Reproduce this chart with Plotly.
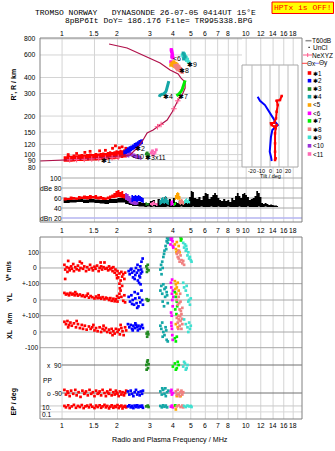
import numpy as np
import plotly.graph_objects as go

W, H = 335, 451
def xp(px): return px / W
def yp(py): return 1 - py / H

SANS = "Liberation Sans, Arial, sans-serif"
MONO = "Liberation Mono, DejaVu Sans Mono, monospace"

# ---------------- tick values / labels ----------------
top_freq_ticks = [1, 1.5, 2, 3, 4, 5, 6, 7, 8, 10, 12, 14, 16, 18]
mid_freq_ticks = [1, 1.5, 2, 3, 4, 5, 6, 7, 8, 9, 10, 12, 14, 16, 18]
bot_freq_ticks = [1, 1.5, 2, 3, 4, 5, 6, 7, 8, 10, 12, 14, 16, 18]
grid_freqs = [1, 1.5, 2, 3, 4, 5, 6, 7, 8, 9, 10, 12, 14, 16, 18]
height_ticks = [80, 90, 100, 120, 150, 200, 300, 400, 600, 800]
dbe_ticks = [100, 80, 60, 40, 20]
dbe_tick_labels = ["100", "dBe 80", "60", "40", "dBn 20"]
tilt_ticks = [-20, -10, 0, 10, 20]

COL = ['#ff0000', '#0000ff', '#228b22', '#14a6a6', '#ffa500', '#ff00ff',
       '#00ee00', '#f08080', '#40e0d0', '#9932d8', '#ff69b4']
legend_labels = ['✱1', '✱2', '✱3', '✱4', '<5', '<6', '✱7', '✱8', '✱9', '<10', '<11']

# ---------------- top panel: virtual height (km) ----------------
prof_f = [0.76, 1.0, 1.333, 1.823, 2.342, 2.588, 2.754, 2.897, 3.124, 3.409, 3.721, 3.963,
          4.27, 4.49, 4.66, 4.66, 4.43, 4.27, 3.86, 3.41, 2.754, 2.256, 1.80]
prof_h = [89.1, 90.7, 92.3, 95.7, 99.3, 114.6, 130, 147.5, 155.6, 170.3, 186.4, 215,
          267, 292, 331, 369, 396, 426, 458, 519, 600, 680, 731]
ne_f = [1.1, 1.2, 1.32, 1.45, 1.58, 1.72, 1.87, 2.02, 3.3, 3.45, 4.05, 4.25]
ne_h = [91, 91.3, 91.8, 92.4, 93, 93.6, 94.5, 95.2, 165, 172, 228, 263]

h_red_f = [1.02, 1.06, 1.1, 1.14, 1.18, 1.22, 1.26, 1.3, 1.35, 1.4,
           1.45, 1.5, 1.55, 1.6, 1.65, 1.7, 1.75, 1.8, 1.85, 1.9,
           1.95, 2.0, 2.05, 2.1, 2.15, 2.2, 2.25, 2.3]
h_red_lo = [88, 88, 88, 88.5, 89, 89, 89, 89.5, 89.5, 90,
            90, 90, 90.5, 91, 91, 91, 91.5, 92, 92, 92,
            93, 93, 94, 94, 95, 95, 96, 97]
h_red_hi = [97, 99, 98, 100, 99, 100, 101, 100, 101, 102,
            101, 103, 102, 103, 104, 103, 105, 106, 105, 106,
            108, 107, 109, 108, 110, 108, 106, 104]
h_redout_f = [1.08, 1.2, 1.33, 1.42, 1.6, 1.72, 1.88, 1.95, 2.05, 2.12, 2.22]
h_redout_h = [100, 102, 104, 106, 107, 108, 112, 117, 113, 115, 112]
h_blue_f = [2.15, 2.2, 2.25, 2.3, 2.35, 2.4, 2.45, 2.5, 2.55, 2.6, 2.65, 2.7, 2.75]
h_blue_lo = [100, 101, 103, 104, 106, 108, 110, 112, 114, 116, 118, 121, 124]
h_blue_hi = [108, 111, 114, 116, 118, 120, 123, 125, 127, 130, 131, 132, 131]
h_purple_f = [2.22, 2.27, 2.32, 2.37, 2.42, 2.5, 2.58, 2.65, 2.7]
h_purple_lo = [96, 95, 97, 96, 94, 93, 92, 91, 92]
h_purple_hi = [104, 106, 108, 104, 102, 100, 99, 97, 96]
h_green_f = [2.87, 2.9, 2.93, 2.95, 2.91]
h_green_h = [101, 103, 99, 100, 97]
h_pink_f = [3.05, 3.1, 3.15, 3.2, 3.25, 3.12, 3.08]
h_pink_h = [103, 107, 101, 104, 109, 99, 105]
h_teal_f = [3.80, 3.78, 3.76, 3.74, 3.71, 3.68, 3.65, 3.62, 3.57, 3.5, 3.44, 3.4, 3.37]
h_teal_h = [375, 362, 350, 338, 326, 316, 308, 302, 298, 296, 294, 290, 282]
h_lime_f = [4.66, 4.64, 4.6, 4.55, 4.5, 4.45, 4.4, 4.34, 4.28, 4.22, 4.18]
h_lime_h = [380, 370, 355, 340, 325, 315, 306, 300, 295, 290, 288]
h_mag_f = [3.92, 3.94, 3.96, 3.98, 3.95, 3.93, 3.97, 4.0, 3.9]
h_mag_h = [660, 640, 620, 600, 580, 650, 590, 570, 530]
h_orange_f = [3.95, 4.0, 4.05, 4.1, 4.15, 4.2, 4.02, 4.08, 3.9]
h_orange_h = [520, 510, 530, 500, 515, 505, 495, 490, 500]
h_salmon_f = [4.1, 4.15, 4.2, 4.25, 4.3, 4.35, 4.4, 4.45, 4.5, 4.22, 4.32, 4.42]
h_salmon_h = [495, 480, 470, 460, 490, 455, 470, 445, 440, 500, 480, 450]
h_aqua_f = [4.5, 4.55, 4.6, 4.65, 4.7, 4.75, 4.8, 4.85, 4.9, 4.62, 4.72]
h_aqua_h = [600, 585, 570, 590, 560, 545, 555, 530, 525, 610, 575]
h_tealup_f = [4.55, 4.6, 4.65, 4.58]
h_tealup_h = [620, 600, 580, 560]

lab_text = ['✱1', '✱2', '<10', '✱3', 'x11', '✱4', '✱7', '<6', '✱8', '✱9']
lab_f = [1.73, 2.64, 2.59, 3.0, 3.41, 3.74, 4.54, 4.19, 4.6, 5.11]
lab_h = [90.7, 111.6, 96.3, 94.9, 94.9, 283, 283, 565, 450, 510]

# ---------------- inset: tilt (deg) vs height ----------------
tilty_deg = [-13.7, -11.1, -5.6, -1.9, 1.1, 3.7, 5.6, 7.4, 8.6, 6.3, 2.6, 1.1, 0.0, -0.3, 1.1, 1.9]
tilty_h = [283, 263.5, 243.8, 222.8, 203.7, 191.9, 180.6, 175.4, 170.2, 165.1, 155.6, 138, 118.9, 105.3, 96.2, 89.1]
tiltx_deg = [13.0, 11.1, 7.4, 8.6, 7.4, 6.7, 4.8, 1.1, 1.9, 4.8, 7.4, 6.3, 5.6, 5.6, 5.6, 6.3, 5.6]
tiltx_h = [287, 266.7, 263.5, 243.8, 216.3, 191.9, 177.4, 175.4, 170.2, 165.1, 170.2, 160.4, 146.5, 122.4, 105.3, 93.5, 90.7]

# ---------------- dBe panel: echo amplitude ----------------
black_f = [1.02, 1.1, 1.2, 1.3, 1.4, 1.5, 1.6, 1.7, 1.8, 1.9,
           2.0, 2.1, 2.2, 2.3, 2.4, 2.5, 2.6, 2.7, 2.8, 2.9,
           3.0, 3.1, 3.2, 3.3, 3.4, 3.5, 3.6, 3.7, 3.8, 3.9,
           4.0, 4.1, 4.2, 4.3, 4.4, 4.5, 4.6, 4.7, 4.8, 4.9,
           5.0, 5.1, 5.2, 5.35, 5.5, 5.65, 5.8, 5.95, 6.1, 6.25,
           6.4, 6.55, 6.7, 6.85, 7.0, 7.15, 7.3, 7.5, 7.7, 7.9,
           8.1, 8.3, 8.5, 8.7, 8.9, 9.1, 9.3, 9.5, 9.7, 9.9,
           10.1, 10.35, 10.6, 10.85, 11.1, 11.35, 11.6, 11.85, 12.1, 12.35,
           12.6, 12.9, 13.2, 13.5, 13.8, 14.1, 14.4, 14.7, 14.9]
black_lo = [50, 51, 52, 50, 51, 50, 49, 48, 50, 50,
            51, 51, 48, 46, 44, 44, 43, 43, 42, 43,
            42, 43, 42, 42, 42, 42, 42, 43, 42, 42,
            42, 42, 42, 42, 43, 42, 42, 42, 42, 42,
            42, 43, 42, 42, 42, 43, 42, 42, 42, 42,
            43, 42, 42, 42, 43, 42, 42, 42, 42, 43,
            42, 42, 42, 42, 42, 43, 42, 42, 42, 42,
            43, 42, 42, 42, 42, 42, 43, 42, 42, 42,
            43, 42, 42, 42, 42, 42, 42, 42, 42]
black_hi = [57, 57, 58, 57, 58, 57, 56, 56, 58, 58,
            60, 60, 58, 56, 54, 52, 52, 50, 50, 50,
            54, 56, 50, 58, 50, 56, 62, 52, 58, 48,
            60, 52, 50, 55, 50, 54, 52, 50, 56, 62,
            74, 72, 60, 58, 62, 56, 64, 70, 68, 58,
            62, 66, 70, 66, 60, 56, 54, 58, 54, 56,
            52, 60, 56, 64, 70, 64, 60, 68, 70, 66,
            62, 56, 58, 60, 64, 74, 70, 62, 50, 48,
            50, 48, 46, 47, 46, 45, 45, 44, 44]
db_red_f = [1.02, 1.06, 1.1, 1.14, 1.18, 1.22, 1.26, 1.3, 1.35, 1.4, 1.45, 1.5, 1.55, 1.6,
            1.65, 1.7, 1.75, 1.8, 1.85, 1.9, 1.95, 2.0, 2.05, 2.1, 2.15, 2.2, 2.25]
db_red_lo = [55, 56, 56, 57, 56, 57, 58, 58, 57, 58, 59, 58, 57, 57,
             56, 56, 57, 58, 60, 60, 61, 62, 61, 60, 59, 60, 58]
db_red_hi = [61, 60, 63, 62, 61, 64, 63, 65, 64, 66, 64, 66, 63, 64,
             62, 61, 63, 65, 67, 70, 74, 76, 72, 74, 68, 66, 64]
db_purple_f = [2.2, 2.25, 2.3, 2.35, 2.4, 2.45, 2.5, 2.55, 2.6]
db_purple_lo = [56, 54, 50, 48, 47, 46, 46, 47, 48]
db_purple_hi = [70, 68, 64, 60, 58, 58, 56, 55, 54]
db_blue_f = [2.38, 2.43, 2.48, 2.53, 2.58, 2.63, 2.68, 2.73, 2.78]
db_blue_lo = [52, 54, 54, 52, 54, 53, 52, 50, 50]
db_blue_hi = [66, 64, 66, 64, 66, 64, 62, 60, 56]
db_green_f = [2.84, 2.88, 2.92, 2.96]
db_green_lo = [44, 46, 45, 44]
db_green_hi = [52, 50, 50, 48]
db_pink_f = [3.0, 3.06, 3.12, 3.18, 3.24, 3.3]
db_pink_lo = [46, 44, 46, 46, 44, 45]
db_pink_hi = [50, 52, 54, 50, 50, 49]
db_teal_f = [3.38, 3.44, 3.5, 3.56, 3.62, 3.68, 3.74, 3.8]
db_teal_lo = [46, 48, 50, 48, 50, 48, 46, 47]
db_teal_hi = [56, 60, 62, 58, 64, 60, 56, 54]
db_mag_f = [3.88, 3.94, 4.0, 4.05]
db_mag_lo = [44, 46, 44, 45]
db_mag_hi = [54, 56, 50, 49]
db_lime_f = [4.04, 4.1, 4.16]
db_lime_lo = [44, 46, 45]
db_lime_hi = [50, 52, 49]
db_orange_f = [4.1, 4.16, 4.22, 4.28, 4.34, 4.4]
db_orange_lo = [56, 58, 56, 57, 54, 55]
db_orange_hi = [66, 70, 72, 70, 64, 60]
db_salmon_f = [4.3, 4.36, 4.42, 4.48, 4.54, 4.6]
db_salmon_lo = [48, 46, 48, 47, 46, 48]
db_salmon_hi = [54, 56, 58, 57, 54, 52]
db_aqua_f = [4.6, 4.66, 4.72, 4.78, 4.84, 4.9, 4.96]
db_aqua_lo = [48, 50, 50, 48, 50, 49, 48]
db_aqua_hi = [56, 58, 60, 56, 58, 54, 52]

# ---------------- lower panel: V* (m/s) ----------------
vs_red_f = [1.03, 1.04, 1.06, 1.07, 1.08, 1.09, 1.1, 1.12, 1.13, 1.15,
            1.16, 1.18, 1.2, 1.22, 1.24, 1.26, 1.28, 1.3, 1.32, 1.35,
            1.37, 1.4, 1.42, 1.45, 1.47, 1.5, 1.52, 1.55, 1.58, 1.6,
            1.63, 1.65, 1.68, 1.7, 1.72, 1.75, 1.78, 1.8, 1.83, 1.86,
            1.88, 1.9, 1.93, 1.95, 1.98, 2.0, 2.02, 2.05, 2.08, 2.1,
            2.12, 2.15, 2.18, 2.2, 2.05, 1.99, 1.04, 1.25, 1.62]
vs_red_v = [20, -10, 5, -25, 45, 0, -15, 10, -5, 25,
            -20, 5, -8, 15, -15, 0, 30, -5, 10, -20,
            5, -10, 20, 0, -15, 8, -5, 15, -20, 0,
            10, -10, 5, 35, -5, 0, -15, 10, -8, 0,
            -20, 5, -30, -10, -45, -20, -60, -35, -80, -25,
            -55, -40, -70, -30, -100, -65, -70, 40, 35]
vs_blue_f = [2.3, 2.33, 2.36, 2.4, 2.43, 2.46, 2.5, 2.52, 2.55, 2.58, 2.6, 2.63,
             2.66, 2.68, 2.7, 2.72, 2.74, 2.62, 2.48, 2.38, 2.57, 2.65, 2.69]
vs_blue_v = [-20, -40, -10, -30, -60, -20, -45, 0, -30, -80, -15, -50,
             10, -35, 40, -25, 60, -95, -70, -5, 20, -60, -10]
vs_green_f = [2.87, 2.9, 2.92, 2.95, 2.89]
vs_green_v = [10, -5, 20, -15, -25]
vs_teal_f = [3.42, 3.45, 3.5, 3.55, 3.6, 3.65, 3.7, 3.72, 3.75, 3.78, 3.68, 3.52, 3.47, 3.58, 3.8]
vs_teal_v = [-10, 20, 40, 70, 110, 140, 170, 190, 160, 180, 120, 0, -40, 90, 195]
vs_mag_f = [3.88, 3.92, 3.95, 3.98, 4.0, 4.02, 3.9]
vs_mag_v = [150, 180, 190, 170, 140, 130, 190]
vs_orange_f = [4.1, 4.15, 4.2, 4.25, 4.3, 4.35, 4.18]
vs_orange_v = [150, 120, 165, 110, 140, 100, 100]
vs_lime_f = [4.4, 4.45, 4.42]
vs_lime_v = [195, 185, 175]
vs_salmon_f = [4.2, 4.25, 4.3, 4.35, 4.4, 4.45, 4.5, 4.55, 4.6, 4.32, 4.28]
vs_salmon_v = [90, 70, 60, 40, 80, 50, 30, 45, 20, 110, 100]
vs_aqua_f = [4.55, 4.6, 4.65, 4.7, 4.75, 4.8, 4.85, 4.9, 4.95, 5.0, 5.05, 4.72]
vs_aqua_v = [160, 130, 150, 110, 120, 80, 100, 60, 70, 50, 40, 140]

# ---------------- lower panel: YL (km) ----------------
yl_red_f = [1.03, 1.05, 1.07, 1.09, 1.11, 1.13, 1.15, 1.17, 1.2, 1.22,
            1.25, 1.28, 1.3, 1.33, 1.36, 1.4, 1.43, 1.46, 1.5, 1.53,
            1.56, 1.6, 1.63, 1.66, 1.7, 1.73, 1.76, 1.8, 1.83, 1.86,
            1.9, 1.93, 1.96, 2.0, 2.03, 2.05, 2.08, 2.1, 2.12, 2.15,
            2.18, 2.2, 2.06, 1.99, 1.38, 1.18, 1.58]
yl_red_v = [45, 35, 40, 30, 45, 35, 40, 30, 38, 28,
            35, 25, 30, 20, 28, 15, 25, 18, 10, 22,
            12, 15, 8, 18, 5, 15, 10, 0, 12, -5,
            8, -8, 5, -10, 15, 40, 60, 20, 90, -5,
            30, -15, 75, 25, 40, 50, 30]
yl_blue_f = [2.3, 2.34, 2.38, 2.42, 2.46, 2.5, 2.54, 2.58, 2.6, 2.63, 2.66, 2.7, 2.72, 2.75, 2.48, 2.56, 2.67, 2.4]
yl_blue_v = [20, -10, 30, 0, -30, 10, -20, 40, -40, 15, -15, 60, 0, -30, 50, -50, 100, -25]
yl_green_f = [2.88, 2.92, 2.95]
yl_green_v = [5, -5, 0]
yl_teal_f = [3.42, 3.46, 3.5, 3.55, 3.6, 3.63, 3.66, 3.7, 3.75, 3.52, 3.58, 3.72]
yl_teal_v = [60, 90, 40, 100, 70, 20, 80, 50, -20, -10, -40, 30]
yl_mag_f = [3.9, 3.92, 3.95, 3.97, 3.99, 3.91, 3.94, 4.0, 4.02, 3.96]
yl_mag_v = [110, 80, 40, 0, -40, -80, -100, 60, 20, 130]
yl_orange_f = [4.1, 4.15, 4.2, 4.25, 4.3, 4.18, 4.12]
yl_orange_v = [120, 100, 80, 110, 60, 40, 70]
yl_lime_f = [4.1, 4.15, 4.2, 4.12, 4.18, 4.22]
yl_lime_v = [50, 20, -10, -60, -90, -40]
yl_salmon_f = [4.2, 4.25, 4.3, 4.35, 4.4, 4.45, 4.5, 4.28, 4.38, 4.33, 4.42, 4.48]
yl_salmon_v = [0, -30, 20, -60, -10, -90, -50, -100, 40, -20, -70, -120]
yl_aqua_f = [4.55, 4.6, 4.7, 4.8, 4.9, 4.95, 5.0, 4.75, 4.85]
yl_aqua_v = [110, 80, 60, 30, 0, -30, 10, 90, -10]

# ---------------- lower panel: XL (km) ----------------
xl_red_f = [1.03, 1.05, 1.07, 1.09, 1.11, 1.13, 1.16, 1.19, 1.22, 1.25,
            1.28, 1.3, 1.33, 1.36, 1.4, 1.43, 1.46, 1.5, 1.53, 1.56,
            1.6, 1.63, 1.66, 1.7, 1.73, 1.76, 1.8, 1.83, 1.86, 1.9,
            1.93, 1.96, 2.0, 2.03, 2.06, 2.1, 2.13, 2.16, 2.2, 2.23,
            1.08, 1.2, 1.48, 1.68, 1.88, 2.08]
xl_red_v = [65, 50, 70, 45, 60, 40, 55, 30, 50, 25,
            45, 20, 40, 15, 35, 20, 30, 10, 25, 5,
            30, 0, 20, 10, 25, 0, 15, -5, 20, 5,
            -10, 20, 0, 15, -15, 25, 5, -20, 30, 10,
            30, 70, 45, 40, -20, 45]
xl_blue_f = [2.28, 2.32, 2.36, 2.4, 2.44, 2.48, 2.52, 2.56, 2.6, 2.64, 2.68, 2.72, 2.75, 2.42, 2.58, 2.5]
xl_blue_v = [50, 30, 45, 20, 40, 25, 45, 30, 40, 20, 35, 45, 25, 10, 10, 55]
xl_green_f = [2.88, 2.92, 2.9, 2.94]
xl_green_v = [-10, 0, -30, -15]
xl_teal_f = [3.42, 3.46, 3.5, 3.55, 3.6, 3.65, 3.7, 3.75, 3.52, 3.68]
xl_teal_v = [40, 20, 60, 0, -20, 30, -50, -60, -30, 10]
xl_mag_f = [3.92, 3.95, 3.97, 3.99, 3.93]
xl_mag_v = [60, 20, -20, -50, 40]
xl_orange_f = [4.15, 4.25]
xl_orange_v = [50, 30]
xl_lime_f = [4.1, 4.15, 4.2]
xl_lime_v = [-40, -60, -30]
xl_salmon_f = [4.2, 4.25, 4.3, 4.35, 4.4, 4.45, 4.5, 4.28, 4.38]
xl_salmon_v = [90, 60, 80, 40, 70, 20, 50, 20, 100]
xl_aqua_f = [4.6, 4.7, 4.8, 4.9, 4.95, 5.0, 4.85]
xl_aqua_v = [80, 50, 30, 60, 20, 40, 0]

# ---------------- lower panel: PP (deg) ----------------
pp_red_f = [1.03, 1.05, 1.07, 1.1, 1.12, 1.15, 1.18, 1.2, 1.23, 1.26,
            1.29, 1.32, 1.35, 1.38, 1.41, 1.44, 1.47, 1.5, 1.53, 1.56,
            1.6, 1.63, 1.66, 1.7, 1.73, 1.76, 1.8, 1.83, 1.86, 1.9,
            1.93, 1.96, 2.0, 2.03, 2.06, 2.1, 2.13, 2.17, 2.2, 2.23,
            1.08, 1.33, 1.58, 1.78, 1.98]
pp_red_v = [-70, -100, -80, -110, -75, -95, -70, -105, -85, -115,
            -75, -95, -80, -105, -70, -95, -85, -110, -75, -95,
            -80, -105, -70, -90, -110, -80, -95, -70, -105, -85,
            -100, -75, -95, -110, -80, -100, -85, -105, -90, -75,
            -90, -90, -90, -90, -88]
pp_blue_f = [2.28, 2.32, 2.36, 2.4, 2.44, 2.48, 2.52, 2.56, 2.6, 2.64, 2.68, 2.72, 2.75]
pp_blue_v = [-80, -100, -75, -95, -110, -85, -70, -100, -85, -105, -80, -95, -75]
pp_green_f = [2.87, 2.9, 2.93, 2.88, 2.92, 2.95]
pp_green_v = [90, 110, 70, 60, 120, 95]
pp_teal_f = [3.42, 3.48, 3.54, 3.6, 3.66, 3.72, 3.78, 3.5, 3.64]
pp_teal_v = [-80, -100, -70, -95, -110, -85, -75, -60, -60]
pp_mag_f = [3.9, 3.95, 4.0, 3.93]
pp_mag_v = [-80, -100, -90, -70]
pp_orange_f = [4.2, 4.4]
pp_orange_v = [-110, -110]
pp_lime_f = [4.0, 4.1, 4.2, 4.3, 4.15, 4.25]
pp_lime_v = [80, 100, 70, 90, 60, 110]
pp_salmon_f = [4.15, 4.2, 4.25, 4.3, 4.35, 4.4, 4.45, 4.5, 4.55]
pp_salmon_v = [-80, -100, -70, -95, -110, -85, -75, -100, -85]
pp_aqua_f = [4.55, 4.65, 4.75, 4.8, 4.7, 4.6]
pp_aqua_v = [80, 100, 70, 90, 60, 110]

# ---------------- lower panel: EP (deg, log) ----------------
ep_red_f = [1.03, 1.05, 1.08, 1.1, 1.13, 1.16, 1.19, 1.22, 1.25, 1.28,
            1.31, 1.34, 1.37, 1.4, 1.43, 1.46, 1.5, 1.53, 1.56, 1.6,
            1.63, 1.66, 1.7, 1.73, 1.76, 1.8, 1.83, 1.86, 1.9, 1.93,
            1.96, 2.0, 2.03, 2.06, 2.1, 2.13, 2.16, 2.2, 2.23]
ep_red_v = [20, 8, 30, 5, 15, 40, 6, 20, 10, 35,
            5, 15, 25, 8, 40, 12, 5, 25, 10, 30,
            6, 15, 40, 8, 20, 4, 12, 30, 6, 18,
            10, 35, 5, 15, 25, 4, 12, 20, 8]
ep_blue_f = [2.28, 2.32, 2.36, 2.4, 2.44, 2.48, 2.52, 2.56, 2.6, 2.64, 2.68, 2.72, 2.75]
ep_blue_v = [15, 30, 8, 20, 5, 25, 10, 30, 8, 20, 12, 25, 6]
ep_green_f = [2.87, 2.92, 2.95]
ep_green_v = [15, 25, 10]
ep_teal_f = [3.42, 3.48, 3.54, 3.6, 3.66, 3.72]
ep_teal_v = [20, 8, 30, 12, 25, 8]
ep_mag_f = [3.9, 3.95, 4.0]
ep_mag_v = [12, 25, 8]
ep_orange_f = [4.1, 4.15]
ep_orange_v = [20, 2]
ep_lime_f = [4.12]
ep_lime_v = [30]
ep_salmon_f = [4.2, 4.3, 4.4, 4.5, 4.55]
ep_salmon_v = [15, 30, 10, 25, 8]
ep_aqua_f = [4.6, 4.7, 4.8, 4.9, 5.0, 5.05]
ep_aqua_v = [20, 10, 25, 15, 20, 10]

# ============================ figure ============================
fig = go.Figure()

def pts(f, v, c, xa, ya, size=3.2, sym='square'):
    assert len(f) == len(v)
    fig.add_trace(go.Scatter(x=f, y=v, mode='markers', xaxis=xa, yaxis=ya, hoverinfo='skip',
                             marker=dict(color=c, size=size, symbol=sym, line=dict(width=0))))

def band(f, lo, hi, c, xa, ya):
    assert len(f) == len(lo) == len(hi)
    fig.add_trace(go.Scatter(x=f, y=lo, mode='lines', xaxis=xa, yaxis=ya, hoverinfo='skip',
                             line=dict(width=0, shape='hv', color=c)))
    fig.add_trace(go.Scatter(x=f, y=hi, mode='lines', xaxis=xa, yaxis=ya, hoverinfo='skip',
                             line=dict(width=0, shape='hv', color=c), fill='tonexty', fillcolor=c))

# top panel
band(h_red_f, h_red_lo, h_red_hi, COL[0], 'x', 'y')
pts(h_redout_f, h_redout_h, COL[0], 'x', 'y', size=2.8)
band(h_purple_f, h_purple_lo, h_purple_hi, COL[9], 'x', 'y')
band(h_blue_f, h_blue_lo, h_blue_hi, COL[1], 'x', 'y')
pts(h_green_f, h_green_h, COL[2], 'x', 'y', size=2.8)
pts(h_pink_f, h_pink_h, COL[10], 'x', 'y', size=2.8)
fig.add_trace(go.Scatter(x=prof_f, y=prof_h, mode='lines', xaxis='x', yaxis='y', hoverinfo='skip',
                         line=dict(color='#b0104a', width=1.2)))
pts(ne_f, ne_h, '#ff5a8c', 'x', 'y', size=4, sym='cross-thin-open')
fig.add_trace(go.Scatter(x=h_teal_f, y=h_teal_h, mode='lines', xaxis='x', yaxis='y', hoverinfo='skip',
                         line=dict(color=COL[3], width=3)))
fig.add_trace(go.Scatter(x=h_lime_f, y=h_lime_h, mode='lines', xaxis='x', yaxis='y', hoverinfo='skip',
                         line=dict(color=COL[6], width=3)))
pts(h_aqua_f, h_aqua_h, COL[8], 'x', 'y', size=3.2)
pts(h_tealup_f, h_tealup_h, COL[3], 'x', 'y', size=3.2)
pts(h_mag_f, h_mag_h, COL[5], 'x', 'y', size=3.2)
pts(h_orange_f, h_orange_h, COL[4], 'x', 'y', size=3.2)
pts(h_salmon_f, h_salmon_h, COL[7], 'x', 'y', size=3.2)

# inset
fig.add_trace(go.Scatter(x=tilty_deg, y=tilty_h, mode='lines', xaxis='x4', yaxis='y8', hoverinfo='skip',
                         line=dict(color='#0000ff', width=2)))
fig.add_trace(go.Scatter(x=tiltx_deg, y=tiltx_h, mode='lines+markers', xaxis='x4', yaxis='y8', hoverinfo='skip',
                         line=dict(color='#ff0000', width=2), marker=dict(size=2.5, symbol='square', color='#ff0000')))

# dBe panel
band(black_f, black_lo, black_hi, '#000000', 'x2', 'y2')
band(db_red_f, db_red_lo, db_red_hi, COL[0], 'x2', 'y2')
band(db_purple_f, db_purple_lo, db_purple_hi, COL[9], 'x2', 'y2')
band(db_blue_f, db_blue_lo, db_blue_hi, COL[1], 'x2', 'y2')
band(db_green_f, db_green_lo, db_green_hi, COL[2], 'x2', 'y2')
band(db_pink_f, db_pink_lo, db_pink_hi, COL[10], 'x2', 'y2')
band(db_teal_f, db_teal_lo, db_teal_hi, COL[3], 'x2', 'y2')
band(db_mag_f, db_mag_lo, db_mag_hi, COL[5], 'x2', 'y2')
band(db_lime_f, db_lime_lo, db_lime_hi, COL[6], 'x2', 'y2')
band(db_orange_f, db_orange_lo, db_orange_hi, COL[4], 'x2', 'y2')
band(db_salmon_f, db_salmon_lo, db_salmon_hi, COL[7], 'x2', 'y2')
band(db_aqua_f, db_aqua_lo, db_aqua_hi, COL[8], 'x2', 'y2')

# lower panel rows
rows = [
    ('y3', [(vs_red_f, vs_red_v, 0), (vs_blue_f, vs_blue_v, 1), (vs_green_f, vs_green_v, 2),
            (vs_teal_f, vs_teal_v, 3), (vs_mag_f, vs_mag_v, 5), (vs_orange_f, vs_orange_v, 4),
            (vs_lime_f, vs_lime_v, 6), (vs_salmon_f, vs_salmon_v, 7), (vs_aqua_f, vs_aqua_v, 8)]),
    ('y4', [(yl_red_f, yl_red_v, 0), (yl_blue_f, yl_blue_v, 1), (yl_green_f, yl_green_v, 2),
            (yl_teal_f, yl_teal_v, 3), (yl_mag_f, yl_mag_v, 5), (yl_orange_f, yl_orange_v, 4),
            (yl_lime_f, yl_lime_v, 6), (yl_salmon_f, yl_salmon_v, 7), (yl_aqua_f, yl_aqua_v, 8)]),
    ('y5', [(xl_red_f, xl_red_v, 0), (xl_blue_f, xl_blue_v, 1), (xl_green_f, xl_green_v, 2),
            (xl_teal_f, xl_teal_v, 3), (xl_mag_f, xl_mag_v, 5), (xl_orange_f, xl_orange_v, 4),
            (xl_lime_f, xl_lime_v, 6), (xl_salmon_f, xl_salmon_v, 7), (xl_aqua_f, xl_aqua_v, 8)]),
    ('y6', [(pp_red_f, pp_red_v, 0), (pp_blue_f, pp_blue_v, 1), (pp_green_f, pp_green_v, 2),
            (pp_teal_f, pp_teal_v, 3), (pp_mag_f, pp_mag_v, 5), (pp_orange_f, pp_orange_v, 4),
            (pp_lime_f, pp_lime_v, 6), (pp_salmon_f, pp_salmon_v, 7), (pp_aqua_f, pp_aqua_v, 8)]),
    ('y7', [(ep_red_f, ep_red_v, 0), (ep_blue_f, ep_blue_v, 1), (ep_green_f, ep_green_v, 2),
            (ep_teal_f, ep_teal_v, 3), (ep_mag_f, ep_mag_v, 5), (ep_orange_f, ep_orange_v, 4),
            (ep_lime_f, ep_lime_v, 6), (ep_salmon_f, ep_salmon_v, 7), (ep_aqua_f, ep_aqua_v, 8)]),
]
for ya, groups in rows:
    for f, v, ci in groups:
        pts(f, v, COL[ci], 'x3', ya, size=2.7)

# ---------------- shapes ----------------
GRID = '#d4d4d4'
shapes = []
def line(x0, x1, y0, y1, color, width=1, xref='paper', yref='paper', layer='below'):
    shapes.append(dict(type='line', xref=xref, yref=yref, x0=x0, x1=x1, y0=y0, y1=y1,
                       line=dict(color=color, width=width), layer=layer))

for f in grid_freqs:
    line(f, f, yp(222), yp(38), GRID, xref='x')
    line(f, f, yp(419), yp(237), GRID, xref='x3')
for h in height_ticks:
    line(xp(40), xp(242), h, h, GRID, yref='y')
for v in [100, 80, 60, 40]:
    line(xp(62), xp(302), v, v, '#a8a8a8', yref='y2')
line(xp(62), xp(302), 20, 20, '#b4b4f0', width=1.5, yref='y2')
line(xp(40), xp(302), 100, 100, '#d0d0d0', yref='y3')
line(xp(40), xp(302), 0, 0, '#a8a8a8', yref='y3')
line(xp(40), xp(302), -100, -100, '#a8a8a8', yref='y3')
line(xp(40), xp(302), 0, 0, '#a8a8a8', yref='y4')
line(xp(40), xp(302), -100, -100, '#a8a8a8', yref='y4')
line(xp(40), xp(302), 0, 0, '#a8a8a8', yref='y5')
line(xp(40), xp(302), -100, -100, '#a8a8a8', yref='y5')
line(xp(62), xp(302), 90, 90, '#707070', yref='y6')
line(xp(62), xp(302), -90, -90, '#707070', yref='y6')
line(xp(40), xp(302), 20, 20, '#c8c8c8', yref='y7')
line(xp(40), xp(302), 0.4, 0.4, '#d8d8d8', yref='y7')
# inset background and grid
shapes.append(dict(type='rect', xref='paper', yref='paper', x0=xp(242), x1=xp(298), y0=yp(167), y1=yp(65),
                   fillcolor='white', line=dict(color='#a8a8a8', width=1), layer='below'))
for t in tilt_ticks:
    line(t, t, yp(167), yp(65), '#bcbcbc', xref='x4')
# frames
for top, bot in [(38, 222), (237, 419)]:
    shapes.append(dict(type='rect', xref='paper', yref='paper', x0=xp(40), x1=xp(302), y0=yp(bot), y1=yp(top),
                       line=dict(color='#808080', width=1), layer='above'))
# HPTx box
shapes.append(dict(type='rect', xref='paper', yref='paper', x0=xp(272), x1=xp(333.5), y0=yp(13.5), y1=yp(2),
                   fillcolor='#ffff00', line=dict(color='#ff0000', width=1), layer='above'))
# legend keys
line(xp(305.5), xp(311.5), yp(40.7), yp(40.7), '#909090', width=1.5, layer='above')
shapes.append(dict(type='rect', xref='paper', yref='paper', x0=xp(308.5), x1=xp(309.7), y0=yp(48), y1=yp(46.8),
                   fillcolor='black', line=dict(width=0), layer='above'))
line(xp(303), xp(312), yp(55), yp(55), '#ff5a8c', width=1, layer='above')
line(xp(307.7), xp(307.7), yp(53), yp(57), '#ff5a8c', width=1, layer='above')
line(xp(302), xp(307), yp(63.3), yp(63.3), '#ff4040', width=1, layer='above')
line(xp(315), xp(319), yp(63.3), yp(63.3), '#8080ff', width=1, layer='above')
leg_y = [73.0, 80.7, 89.0, 96.7, 105.0, 113.3, 120.9, 129.2, 137.3, 145.8, 154.0]
for i, ly in enumerate(leg_y):
    shapes.append(dict(type='rect', xref='paper', yref='paper', x0=xp(307.7), x1=xp(311.3),
                       y0=yp(ly + 1.8), y1=yp(ly - 1.8), fillcolor=COL[i], line=dict(width=0), layer='above'))

# ---------------- annotations ----------------
ann = []
def A(text, x, y, xref='paper', yref='paper', size=7, xanchor='center', yanchor='middle',
      color='black', family=SANS, angle=0):
    ann.append(dict(text=text, x=x, y=y, xref=xref, yref=yref, showarrow=False, xanchor=xanchor,
                    yanchor=yanchor, font=dict(size=size, color=color, family=family),
                    textangle=angle, borderpad=0, borderwidth=0))

def flab(f):
    return ('%g' % f)

A('TROMSO NORWAY   DYNASONDE 26-07-05 0414UT 15°E', xp(35), yp(12.7), size=8, xanchor='left', family=MONO)
A('8pBP6It DoY= 186.176 File= TR995338.BPG', xp(65), yp(20.3), size=8, xanchor='left', family=MONO)
A('HPTx is OFF!', xp(303), yp(8), size=8, color='#ff0000', family=MONO)

for f in top_freq_ticks:
    A(flab(f), np.log10(f), yp(33.3), xref='x', size=6.8)
for f in mid_freq_ticks:
    A(flab(f), np.log10(f), yp(230), xref='x2', size=6.8)
for f in bot_freq_ticks:
    A(flab(f), np.log10(f), yp(425), xref='x3', size=6.8)
A('Radio and Plasma Frequency / MHz', xp(170), yp(439), size=7.2)

for h in height_ticks:
    A(str(h), xp(36), np.log10(h), yref='y', size=6.8, xanchor='right')
for v, t in zip(dbe_ticks, dbe_tick_labels):
    A(t, xp(61.5), v, yref='y2', size=6.8, xanchor='right')

A('100', xp(39), 100, yref='y3', size=6.6, xanchor='right')
A('0', xp(37), 0, yref='y3', size=6.6, xanchor='right')
A('+-100', xp(39), -100, yref='y3', size=6.6, xanchor='right')
A('0', xp(37), 0, yref='y4', size=6.6, xanchor='right')
A('+-100', xp(39), -100, yref='y4', size=6.6, xanchor='right')
A('0', xp(37), 0, yref='y5', size=6.6, xanchor='right')
A('-100', xp(39), -100, yref='y5', size=6.6, xanchor='right')
A('x  90', xp(61.5), 90, yref='y6', size=6.6, xanchor='right')
A('o -90', xp(61.5), -90, yref='y6', size=6.6, xanchor='right')
A('PP', xp(43), yp(380), size=6.6, xanchor='left')
A('10.', xp(50.5), 1, yref='y7', size=6.6, xanchor='right')
A('0.1', xp(50.5), -1, yref='y7', size=6.6, xanchor='right')

A("<b>R', R / km</b>", xp(13.5), yp(85), size=7, angle=-90)
A('<b>V* m/s</b>', xp(8), yp(271), size=6.5, angle=-90)
A('<b>YL</b>', xp(9), yp(297), size=7, angle=-90)
A('<b>/km</b>', xp(9), yp(319), size=6.5, angle=-90)
A('<b>XL</b>', xp(9), yp(334), size=7, angle=-90)
A('<b>EP / deg</b>', xp(13.5), yp(402), size=7, angle=-90)

for t in tilt_ticks:
    A(str(t), t, yp(170.5), xref='x4', size=5.5)
A('Tilt / deg', 0, yp(175.5), xref='x4', size=5.5)

for t, f, h in zip(lab_text, lab_f, lab_h):
    A(t, np.log10(f), np.log10(h), xref='x', yref='y', size=7)

A('T60dB', xp(312.3), yp(40.7), size=6.5, xanchor='left')
A('UnCl', xp(313), yp(47.5), size=6.5, xanchor='left')
A('NeXYZ', xp(312.3), yp(55), size=6.5, xanchor='left')
A('Θx', xp(307), yp(63.3), size=6.5, xanchor='left')
A('Θy', xp(319), yp(63.3), size=6.5, xanchor='left')
for lbl, ly in zip(legend_labels, leg_y):
    A(lbl, xp(312.5), yp(ly), size=6.3, xanchor='left')

# ---------------- layout ----------------
XR = [np.log10(0.759), np.log10(20.1)]
common_x = dict(type='log', range=XR, domain=[xp(40), xp(302)], visible=False)
fig.update_layout(
    width=W, height=H, margin=dict(l=0, r=0, t=0, b=0),
    paper_bgcolor='white', plot_bgcolor='rgba(0,0,0,0)', showlegend=False,
    xaxis=dict(**common_x, anchor='y'),
    xaxis2=dict(**common_x, anchor='y2'),
    xaxis3=dict(**common_x, anchor='y3'),
    xaxis4=dict(range=[-31.1, 31.1], domain=[xp(242), xp(298)], anchor='y8', visible=False),
    yaxis=dict(type='log', range=[1.864, 2.9108], domain=[yp(172), yp(38)], anchor='x', visible=False),
    yaxis2=dict(range=[12, 112], domain=[yp(222), yp(172)], anchor='x2', visible=False),
    yaxis3=dict(range=[-962, 197.3], domain=[yp(419), yp(237)], anchor='x3', visible=False),
    yaxis4=dict(range=[-758, 401.3], overlaying='y3', anchor='x3', visible=False),
    yaxis5=dict(range=[-554.2, 605.1], overlaying='y3', anchor='x3', visible=False),
    yaxis6=dict(range=[-257.2, 913.1], overlaying='y3', anchor='x3', visible=False),
    yaxis7=dict(type='log', range=[-2.43, 49.57], overlaying='y3', anchor='x3', visible=False),
    yaxis8=dict(type='log', range=[1.903, 2.700], domain=[yp(167), yp(65)], anchor='x4', visible=False),
    shapes=shapes, annotations=ann,
)

fig.write_html("out.html")
